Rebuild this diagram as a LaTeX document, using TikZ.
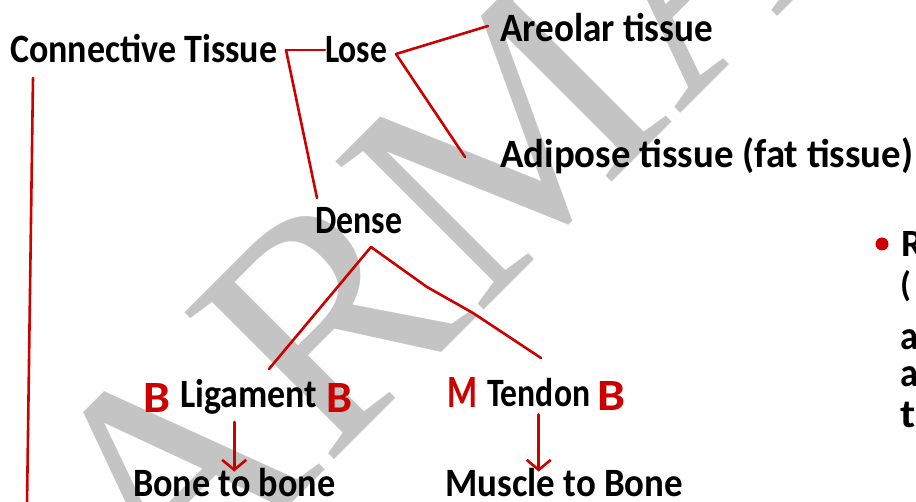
\documentclass[tikz,border=0pt]{standalone}
\usepackage{fontspec}
\setmainfont{Carlito}
\newfontfamily\wmfamily{Liberation Serif}
\usetikzlibrary{arrows.meta}
\definecolor{myred}{RGB}{205,0,0}
\definecolor{wmgray}{RGB}{196,196,196}
\newcommand{\fitw}[2]{\resizebox{#1pt}{1.15\height}{#2}}
\newcommand{\fitwh}[3]{\resizebox{#1pt}{#2pt}{#3}}
\tikzset{
  lbl/.style={inner sep=0pt, anchor=base west, font=\fontsize{35}{40}\selectfont\bfseries, text=black},
  rlbl/.style={lbl, text=myred},
  redline/.style={draw=myred, line width=2.6pt, line cap=round, line join=round},
  arr/.style={redline, -{Straight Barb[length=10pt,width=24pt,line width=2.6pt]}},
}
\begin{document}
\begin{tikzpicture}[x=1pt,y=-1pt]
\useasboundingbox[fill=white] (0,0) rectangle (916,502);
% watermark
\node[inner sep=0pt, rotate=45, text=wmgray, font=\wmfamily\fontsize{320}{320}\selectfont] (wm) at (428,217) {ARMA};
% labels
\node[lbl] (ct) at (10,63) {\fitw{267}{Connective Tissue}};
\node[lbl] (lose) at (325,63) {\fitw{62}{Lose}};
\node[lbl] (areo) at (500,42) {\fitw{213}{Areolar tissue}};
\node[lbl] (adip) at (500,168) {\fitw{413}{Adipose tissue (fat tissue)}};
\node[lbl] (dense) at (315,234) {\fitw{87}{Dense}};
\node[rlbl] (b1) at (143,413) {\fitwh{27}{29}{B}};
\node[lbl] (lig) at (180,408) {\fitw{137}{Ligament}};
\node[rlbl] (b2) at (326,413) {\fitwh{26}{29}{B}};
\node[rlbl] (m1) at (447,408) {\fitwh{30}{30}{M}};
\node[lbl] (tend) at (487,407) {\fitw{103}{Tendon}};
\node[rlbl] (b3) at (597,411) {\fitwh{28}{29}{B}};
\node[lbl] (bone) at (133,496) {\fitw{202}{Bone to bone}};
\node[lbl] (musc) at (445,496) {\fitw{238}{Muscle to Bone}};
% right column (cut off)
\node[circle, fill=myred, inner sep=0pt, minimum size=13pt] (dot) at (882,244) {};
\node[lbl] (r1) at (901,257) {\fitwh{22}{25}{R}};
\node[lbl] (r2) at (900,297) {(};
\node[lbl] (r3) at (900,350) {\fitw{18}{a}};
\node[lbl] (r4) at (900,387) {\fitw{18}{a}};
\node[lbl] (r5) at (900,428) {\fitw{26}{tl}};
% connectors
\coordinate (j1) at (286,50);
\coordinate (j2) at (396,54);
\coordinate (j3) at (371,247);
\coordinate (vtop) at (33,78);
\coordinate (vbot) at (27,505);
\coordinate (aend) at (488,26);
\coordinate (dend) at (465,157);
\coordinate (lend) at (269,369);
\coordinate (tend1) at (427,287);
\coordinate (tend2) at (473,313);
\coordinate (tend3) at (541,358);
\draw[redline] (vtop) -- (vbot);
\draw[redline] (j1) -- (j1 -| lose.west);
\draw[redline] (j1) -- (317,198);
\draw[redline] (aend) -- (j2) -- (dend);
\draw[redline] (lend) -- (j3) -- (tend1) -- (tend2) -- (tend3);
\draw[arr] ([yshift=-7]bone.north |- lig.south) -- ([yshift=-4]bone.north);
\draw[arr] ([yshift=-7]tend.south) -- ([yshift=-4]tend.south |- musc.north);
\end{tikzpicture}
\end{document}
